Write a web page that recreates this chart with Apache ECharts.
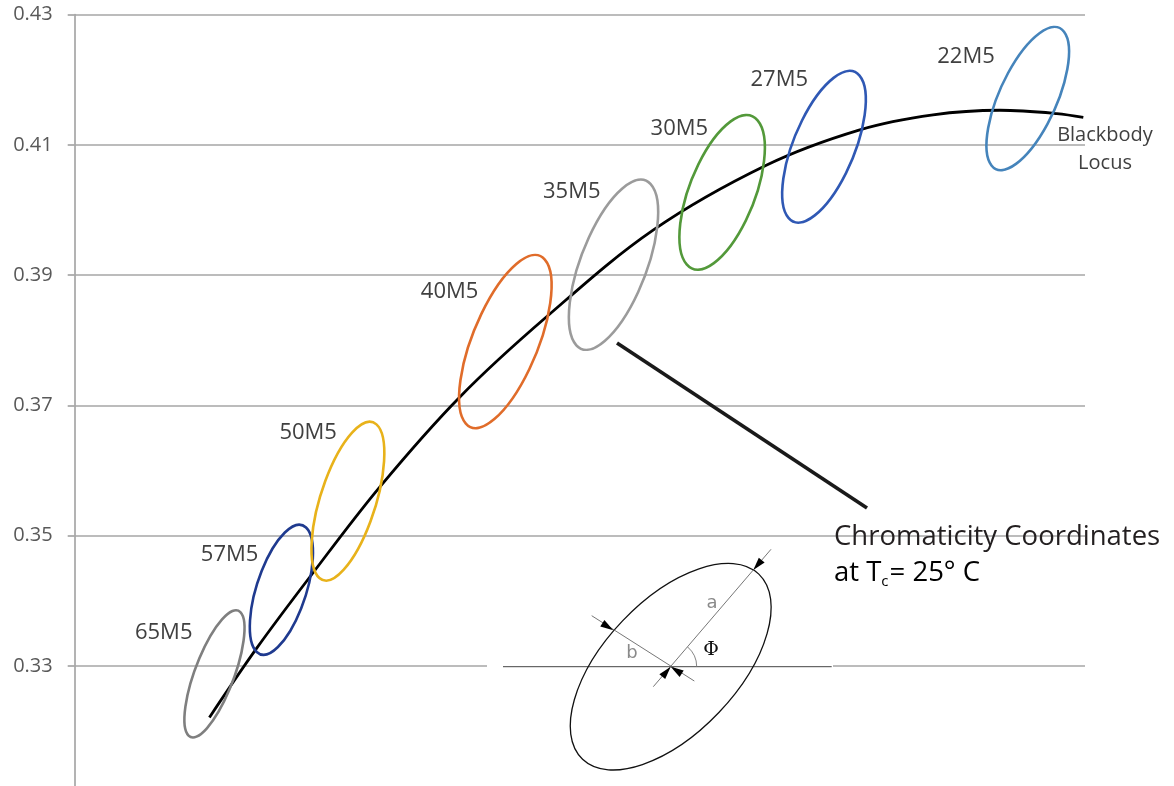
<!DOCTYPE html>
<html><head><meta charset="utf-8">
<script src="https://cdn.jsdelivr.net/npm/echarts@6/dist/echarts.min.js"></script>
<style>html,body{margin:0;padding:0;background:#fff;overflow:hidden}#c{width:1174px;height:797px}</style>
</head><body><div id="c"></div>
<script>
// ---- data ----
const binNames = ['65M5', '57M5', '50M5', '40M5', '35M5', '30M5', '27M5', '22M5'];
const centerX  = [0.3132, 0.3291, 0.3449, 0.3823, 0.4080, 0.4338, 0.4580, 0.5064];
const centerY  = [0.3288, 0.3417, 0.3553, 0.3798, 0.3916, 0.4027, 0.4097, 0.4171];
const semiA    = [0.0113, 0.0112, 0.0136, 0.0157, 0.0152, 0.0139, 0.0138, 0.0134];
const semiB    = [0.0043, 0.0055, 0.0062, 0.0071, 0.0072, 0.0071, 0.0066, 0.0061];
const phiDeg   = [57.0, 58.5, 60.1, 53.3, 54.5, 52.7, 52.3, 50.0];
const locusX = [0.3120, 0.3232, 0.3359, 0.3525, 0.3715, 0.3921, 0.4174, 0.4444, 0.4665, 0.4839, 0.4998, 0.5133, 0.5196];
const locusY = [0.3221, 0.3327, 0.3437, 0.3575, 0.3713, 0.3836, 0.3969, 0.4069, 0.4123, 0.4146, 0.4153, 0.4148, 0.4142];
const yTickLabels = ['0.33', '0.35', '0.37', '0.39', '0.41', '0.43'];
const locusName = ['Blackbody', 'Locus'];
const calloutText = ['Chromaticity Coordinates', 'at T', 'c', '= 25° C'];

// ---- styles ----
const ellipseColors = ['#7f7f7f', '#1f3a8f', '#e8b21a', '#e06c2a', '#9b9b9b', '#53993a', '#2f58b4', '#4584bb'];
const labelOffsets = [[-22, -41], [-23, -35], [-11, -68], [-27, -50], [-13, -73], [-14, -64], [-16, -67], [-33, -42]];
const FONT = '"Open Sans", sans-serif';

const ellipseData = binNames.map((n, i) => [centerX[i], centerY[i], semiA[i], semiB[i], phiDeg[i], i]);
const locusData = locusX.map((x, i) => [x, locusY[i]]);

function renderEllipse(params, api) {
  const cx = api.value(0), cy = api.value(1), a = api.value(2), b = api.value(3);
  const phi = api.value(4) * Math.PI / 180, idx = api.value(5);
  const c = api.coord([cx, cy]);
  const pu = api.coord([cx + a * Math.cos(phi), cy + a * Math.sin(phi)]);
  const pv = api.coord([cx - b * Math.sin(phi), cy + b * Math.cos(phi)]);
  const U = [pu[0] - c[0], pu[1] - c[1]], V = [pv[0] - c[0], pv[1] - c[1]];
  const P = (s, t) => [c[0] + s * U[0] + t * V[0], c[1] + s * U[1] + t * V[1]].map(v => v.toFixed(2)).join(',');
  const k = 0.5522847;
  const q = [[1, 0], [0, 1], [-1, 0], [0, -1]];
  let d = 'M' + P(1, 0);
  for (let i = 0; i < 4; i++) {
    const [s0, t0] = q[i], [s1, t1] = q[(i + 1) % 4];
    d += ' C' + P(s0 + k * s1, t0 + k * t1) + ' ' + P(s1 + k * s0, t1 + k * t0) + ' ' + P(s1, t1);
  }
  d += ' Z';
  const off = labelOffsets[idx];
  return {
    type: 'group',
    children: [
      { type: 'path', shape: { pathData: d }, style: { fill: null, stroke: ellipseColors[idx], lineWidth: 2.6 } },
      { type: 'text', x: c[0] + off[0], y: c[1] + off[1],
        style: { text: binNames[idx], align: 'right', verticalAlign: 'middle', font: '22px ' + FONT, fill: '#404040' } }
    ]
  };
}

// inset geometry (illustration, pixel space)
const ic = [670.7, 666.7];
function arrow(tip, dir, len, hw) {
  const n = [-dir[1], dir[0]];
  const b = [tip[0] - len * dir[0], tip[1] - len * dir[1]];
  return [tip, [b[0] + hw * n[0], b[1] + hw * n[1]], [b[0] - hw * n[0], b[1] - hw * n[1]]];
}
const da = [-0.647, 0.762], db = [0.844, 0.537];

const chart = echarts.init(document.getElementById('c'), null, { renderer: 'canvas' });
chart.setOption({
  animation: false,
  backgroundColor: '#fff',
  grid: { left: 74.7, right: 89, top: 14.5, bottom: 0.7, containLabel: false },
  xAxis: { type: 'value', min: 0.28, max: 0.52, show: false },
  yAxis: {
    type: 'value', min: 0.31, max: 0.43, interval: 0.02,
    axisLine: { show: true, lineStyle: { color: '#a6a6a6', width: 1.7 } },
    axisTick: { show: true, length: 7, lineStyle: { color: '#a6a6a6', width: 1.7 } },
    splitLine: { show: true, lineStyle: { color: '#a6a6a6', width: 1.7 } },
    axisLabel: { margin: 22, color: '#595959', fontSize: 20, fontFamily: '"Open Sans", sans-serif',
      formatter: v => { const s = v.toFixed(2); return yTickLabels.includes(s) ? s : ''; } }
  },
  series: [
    { type: 'line', data: locusData, smooth: 0.35, showSymbol: false, z: 3,
      lineStyle: { color: '#000', width: 2.8 } },
    { type: 'custom', data: ellipseData, renderItem: renderEllipse, encode: { x: 0, y: 1 }, z: 4 }
  ],
  graphic: [
    { type: 'text', x: 1105, y: 135, z: 20, style: { text: locusName[0], align: 'center', verticalAlign: 'middle', font: '20px ' + FONT, fill: '#404040' } },
    { type: 'text', x: 1105, y: 163, z: 20, style: { text: locusName[1], align: 'center', verticalAlign: 'middle', font: '20px ' + FONT, fill: '#404040' } },
    { type: 'line', z: 20, shape: { x1: 617, y1: 343, x2: 867, y2: 508 }, style: { stroke: '#1a1a1a', lineWidth: 3.6 } },
    { type: 'text', x: 834, y: 537, z: 20, style: { text: calloutText[0], align: 'left', verticalAlign: 'middle', font: '27.5px ' + FONT, fill: '#231f20' } },
    { type: 'text', x: 834, y: 573, z: 20, style: {
        text: '{n|' + calloutText[1] + '}{s|' + calloutText[2] + '}{n|' + calloutText[3] + '}',
        align: 'left', verticalAlign: 'middle',
        rich: { n: { fontSize: 27.5, fontFamily: FONT, color: '#231f20', lineHeight: 32 },
                s: { fontSize: 15, fontFamily: FONT, color: '#231f20', lineHeight: 32, verticalAlign: 'bottom', padding: [0, 1, 0, 0] } } } },
    // inset diagram
    { type: 'rect', z: 15, shape: { x: 487, y: 662, width: 346, height: 9 }, style: { fill: '#fff' } },
    { type: 'line', z: 16, shape: { x1: 503, y1: ic[1], x2: 831.7, y2: ic[1] }, style: { stroke: '#444', lineWidth: 1 } },
    { type: 'ellipse', z: 16, x: ic[0], y: ic[1], rotation: 46.4 * Math.PI / 180,
      shape: { cx: 0, cy: 0, rx: 127.8, ry: 66.5 }, style: { fill: null, stroke: '#111', lineWidth: 1.3 } },
    { type: 'line', z: 16, shape: { x1: 653.3, y1: 686.7, x2: 771, y2: 549.3 }, style: { stroke: '#666', lineWidth: 0.9 } },
    { type: 'line', z: 16, shape: { x1: 591.7, y1: 615.7, x2: 694.3, y2: 681 }, style: { stroke: '#666', lineWidth: 0.9 } },
    { type: 'arc', z: 16, shape: { cx: ic[0], cy: ic[1], r: 26, startAngle: -49.4 * Math.PI / 180, endAngle: 0, clockwise: true }, style: { stroke: '#777', lineWidth: 0.9, fill: null } },
    { type: 'polygon', z: 17, shape: { points: arrow([753.3, 570], da, 13, 3.8) }, style: { fill: '#000' } },
    { type: 'polygon', z: 17, shape: { points: arrow(ic, [-da[0], -da[1]], 13, 3.8) }, style: { fill: '#000' } },
    { type: 'polygon', z: 17, shape: { points: arrow(ic, [-db[0], -db[1]], 13, 3.8) }, style: { fill: '#000' } },
    { type: 'polygon', z: 17, shape: { points: arrow([613.3, 630.2], db, 13, 3.8) }, style: { fill: '#000' } },
    { type: 'text', z: 17, x: 712, y: 603, style: { text: 'a', align: 'center', verticalAlign: 'middle', font: '18px "DejaVu Sans", sans-serif', fill: '#8a8a8a' } },
    { type: 'text', z: 17, x: 632, y: 653, style: { text: 'b', align: 'center', verticalAlign: 'middle', font: '18px "DejaVu Sans", sans-serif', fill: '#8a8a8a' } },
    { type: 'text', z: 17, x: 711, y: 650, style: { text: 'Φ', align: 'center', verticalAlign: 'middle', font: '19px "DejaVu Serif", serif', fill: '#111' } }
  ]
});
</script></body></html>
